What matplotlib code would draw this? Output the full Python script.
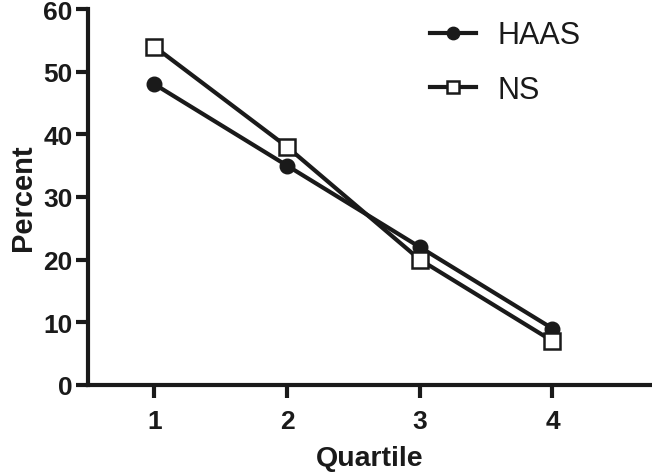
import matplotlib
matplotlib.use("Agg")
import matplotlib.pyplot as plt

quartiles = [1, 2, 3, 4]
haas = [48, 35, 22, 9]
ns = [54, 38, 20, 7]
y_ticks = [0, 10, 20, 30, 40, 50, 60]

ink = "#1a1a1a"
plt.rcParams["font.family"] = ["Liberation Sans", "DejaVu Sans"]

fig = plt.figure(figsize=(6.52, 4.77), dpi=100)
ax = fig.add_axes([0.135, 0.191, 0.865, 0.788])

ax.plot(quartiles, haas, color=ink, lw=3, marker="o", ms=10.5,
        mfc=ink, mec=ink, label="HAAS", clip_on=False, zorder=3)
ax.plot(quartiles, ns, color=ink, lw=3, marker="s", ms=11,
        mfc="white", mec=ink, mew=1.8, label="NS", clip_on=False, zorder=3)

ax.set_xlim(0.5, 4.75)
ax.set_ylim(0, 60)
ax.set_xticks(quartiles)
ax.set_yticks(y_ticks)

for side in ("top", "right"):
    ax.spines[side].set_visible(False)
for side in ("left", "bottom"):
    ax.spines[side].set_linewidth(3)
    ax.spines[side].set_color(ink)

ax.tick_params(axis="both", direction="out", length=9, width=3, color=ink,
               labelsize=19, labelcolor=ink)
ax.tick_params(axis="x", pad=8)
ax.tick_params(axis="y", pad=2)
for lab in ax.get_xticklabels() + ax.get_yticklabels():
    lab.set_fontweight("bold")

ax.set_xlabel("Quartile", fontsize=20.5, fontweight="bold", color=ink, labelpad=9)
ax.set_ylabel("Percent", fontsize=21, fontweight="bold", color=ink, labelpad=4.5)

leg = ax.legend(loc="upper left", bbox_to_anchor=(0.606, 0.97), frameon=False,
                fontsize=22, handlelength=1.5, handletextpad=0.7,
                labelspacing=0.8, borderpad=0, borderaxespad=0,
                markerscale=0.85)
for t in leg.get_texts():
    t.set_color(ink)

fig.savefig("out.png", dpi=100)
